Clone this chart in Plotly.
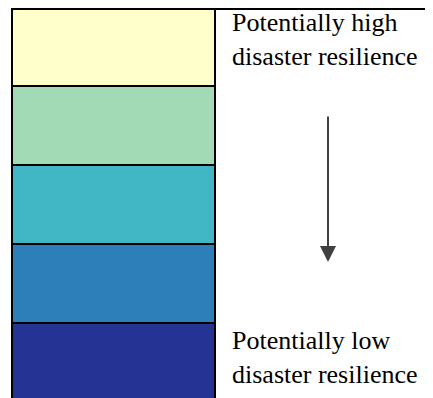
import plotly.graph_objects as go

# Data
levels = ["Level 1", "Level 2", "Level 3", "Level 4", "Level 5"]
level_sizes = [1, 1, 1, 1, 1]
level_colors = ["#FFFFCC", "#A1DAB4", "#41B6C4", "#2C7FB8", "#253494"]
label_top = "Potentially high<br>disaster resilience"
label_bottom = "Potentially low<br>disaster resilience"

# page has an 8px body margin, so the figure covers the visible 425x390 area
W, H = 425, 390
BOX_TOP = -1     # px (figure coords)
BOX_H = 79       # px per level
BOX_LEFT, BOX_RIGHT = 4, 207

def px_to_u(py):
    return (py - BOX_TOP) / BOX_H

def px_x(px):
    return px / W

def px_y(py):
    return 1 - py / H

fig = go.Figure()
for name, val, col in zip(levels, level_sizes, level_colors):
    fig.add_trace(go.Bar(
        x=[(BOX_LEFT + BOX_RIGHT) / 2], y=[val], width=[BOX_RIGHT - BOX_LEFT],
        name=name, marker=dict(color=col, line=dict(color="black", width=2)),
        hoverinfo="skip", showlegend=False,
    ))

fig.update_layout(
    barmode="stack",
    width=W, height=H,
    margin=dict(l=0, r=0, t=0, b=0),
    paper_bgcolor="white", plot_bgcolor="white",
    xaxis=dict(range=[0, W], visible=False, fixedrange=True),
    yaxis=dict(range=[px_to_u(H), px_to_u(0)], visible=False, fixedrange=True),
    showlegend=False,
)

# top border continuing across the text column
fig.add_shape(type="line", xref="paper", yref="paper",
              x0=px_x(BOX_LEFT - 1), x1=1, y0=px_y(1), y1=px_y(1),
              line=dict(color="black", width=2))

font = dict(family="Liberation Serif", size=26, color="black")
fig.add_annotation(text=label_top, xref="paper", yref="paper",
                   x=px_x(222), y=px_y(-2), xanchor="left", yanchor="top",
                   align="left", showarrow=False, font=font)
fig.add_annotation(text=label_bottom, xref="paper", yref="paper",
                   x=px_x(222), y=px_y(316), xanchor="left", yanchor="top",
                   align="left", showarrow=False, font=font)

# arrow
fig.add_annotation(xref="paper", yref="paper", axref="pixel", ayref="pixel",
                   x=px_x(320), y=px_y(254), ax=0, ay=-147,
                   text="", showarrow=True, arrowhead=2, arrowsize=1.6,
                   arrowwidth=2, arrowcolor="#404040")

fig.write_html("out.html")
